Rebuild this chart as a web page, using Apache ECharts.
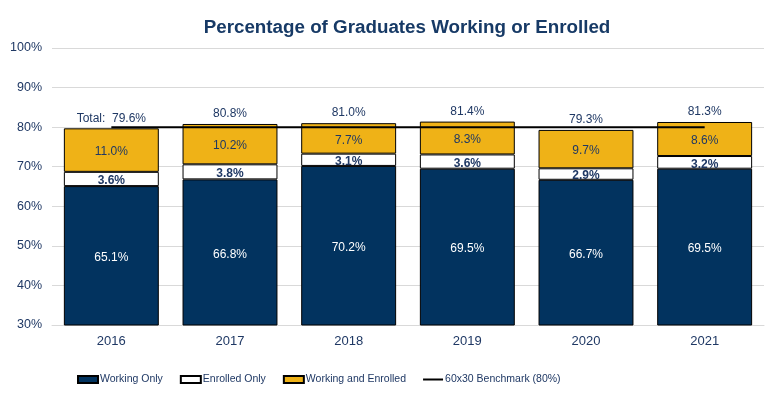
<!DOCTYPE html>
<html><head><meta charset="utf-8">
<script src="https://cdn.jsdelivr.net/npm/echarts@6/dist/echarts.min.js"></script>
<style>html,body{margin:0;padding:0;background:#fff}#c{width:783px;height:399px}</style>
</head><body><div id="c"></div>
<script>
const years = ['2016','2017','2018','2019','2020','2021'];
const workingOnly = [65.1, 66.8, 70.2, 69.5, 66.7, 69.5];
const enrolledOnly = [3.6, 3.8, 3.1, 3.6, 2.9, 3.2];
const workingEnrolled = [11.0, 10.2, 7.7, 8.3, 9.7, 8.6];
const totals = [79.6, 80.8, 81.0, 81.4, 79.3, 81.3];
const benchmark = [80, 80, 80, 80, 80, 80];

const NAVY = '#02335F', GOLD = '#EFB217', TXT = '#1F3864';
const FONT = '"Liberation Sans", Arial, sans-serif';
const chart = echarts.init(document.getElementById('c'));
chart.setOption({
  animation: false,
  textStyle: { fontFamily: FONT },
  title: {
    text: 'Percentage of Graduates Working or Enrolled',
    left: 402, top: 13, textAlign: 'center',
    textStyle: { fontFamily: FONT, fontSize: 18.8, fontWeight: 'bold', color: '#173A66' }
  },
  grid: { left: 52, right: 19, top: 48, bottom: 74 },
  legend: {
    left: 72, top: 369, itemGap: 17, itemWidth: 20, itemHeight: 7,
    textStyle: { color: TXT, fontSize: 10.5, fontFamily: FONT, padding: [0, 0, 0, -3] },
    data: [
      { name: 'Working Only', icon: 'rect' },
      { name: 'Enrolled Only', icon: 'rect' },
      { name: 'Working and Enrolled', icon: 'rect' },
      { name: '60x30 Benchmark (80%)', icon: 'path://M0,0 L20,0 L20,2 L0,2 Z' }
    ]
  },
  xAxis: {
    type: 'category', data: years,
    axisTick: { show: false },
    axisLine: { lineStyle: { color: '#D9D9D9' } },
    axisLabel: { color: TXT, fontSize: 13, margin: 10 }
  },
  yAxis: {
    type: 'value', min: 30, max: 100, interval: 10,
    axisLabel: { formatter: '{value}%', color: TXT, fontSize: 12.5, margin: 10 },
    splitLine: { lineStyle: { color: '#D9D9D9' } },
    axisLine: { show: false }, axisTick: { show: false }
  },
  series: [
    {
      name: 'Working Only', type: 'bar', stack: 's', barWidth: '80%', data: workingOnly,
      itemStyle: { color: NAVY, borderColor: '#000', borderWidth: 1 },
      label: { show: true, position: 'inside', offset: [0, 2], color: '#fff', fontSize: 12, formatter: p => p.value.toFixed(1) + '%' }
    },
    {
      name: 'Enrolled Only', type: 'bar', stack: 's', data: enrolledOnly,
      itemStyle: { color: '#fff', borderColor: '#000', borderWidth: 1 },
      label: { show: true, position: 'inside', offset: [0, 2], color: TXT, fontWeight: 'bold', fontSize: 12, formatter: p => p.value.toFixed(1) + '%' }
    },
    {
      name: 'Working and Enrolled', type: 'bar', stack: 's', data: workingEnrolled,
      itemStyle: { color: GOLD, borderColor: '#000', borderWidth: 1 },
      label: { show: true, position: 'inside', offset: [0, 2], color: TXT, fontSize: 12, formatter: p => p.value.toFixed(1) + '%' }
    },
    {
      name: 'Totals', type: 'bar', stack: 's', data: workingEnrolled.map(() => 0),
      itemStyle: { color: 'transparent', borderWidth: 0 },
      label: { show: true, position: 'top', distance: 4, color: TXT, fontSize: 12,
        formatter: p => (p.dataIndex === 0 ? 'Total:  ' : '') + totals[p.dataIndex].toFixed(1) + '%' },
      tooltip: { show: false }
    },
    {
      name: '60x30 Benchmark (80%)', type: 'line', data: benchmark, symbol: 'none', z: 10,
      lineStyle: { color: '#000', width: 2 }, itemStyle: { color: '#000' }
    }
  ]
});
</script></body></html>
